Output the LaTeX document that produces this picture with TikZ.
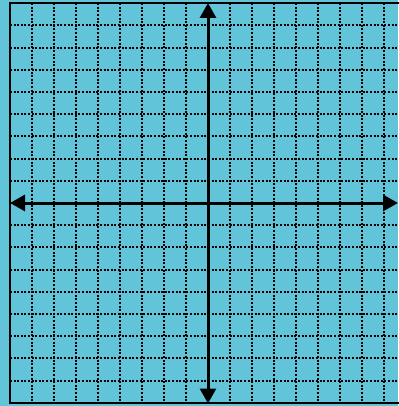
\documentclass[tikz,border=0pt]{standalone}
\usetikzlibrary{arrows.meta}
\definecolor{paper}{RGB}{98,196,216}
\tikzset{
  gridline/.style={black, line width=2.1pt, dash pattern=on 2pt off 1.6pt},
  frameline/.style={black, line width=2.2pt},
  axisline/.style={black, line width=3pt, {Triangle[width=16pt,length=15pt]}-{Triangle[width=16pt,length=15pt]}}
}
\begin{document}
\begin{tikzpicture}[x=1pt,y=-1pt]
  \fill[paper] (0,0) rectangle (398,406);
  \useasboundingbox (0,0) rectangle (398,406);
  % vertical dotted lines
  \foreach \k in {-8,...,-1,1,2,...,8}
    \draw[gridline] ({208+22*\k},3.2) -- ({208+22*\k},402.8);
  % horizontal dotted lines
  \foreach \k in {-8,...,-1,1,2,...,8}
    \draw[gridline] (10,{203+22.2*\k}) -- (398,{203+22.2*\k});
  % frame
  \draw[frameline] (400,3.2) -- (10,3.2) -- (10,402.8) -- (400,402.8);
  % axes
  \coordinate (top) at (208,3);
  \coordinate (bottom) at (208,403.5);
  \coordinate (left) at (10,203);
  \coordinate (right) at (398,203);
  \draw[axisline] (bottom) -- (top);
  \draw[axisline] (left) -- (right);
\end{tikzpicture}
\end{document}
